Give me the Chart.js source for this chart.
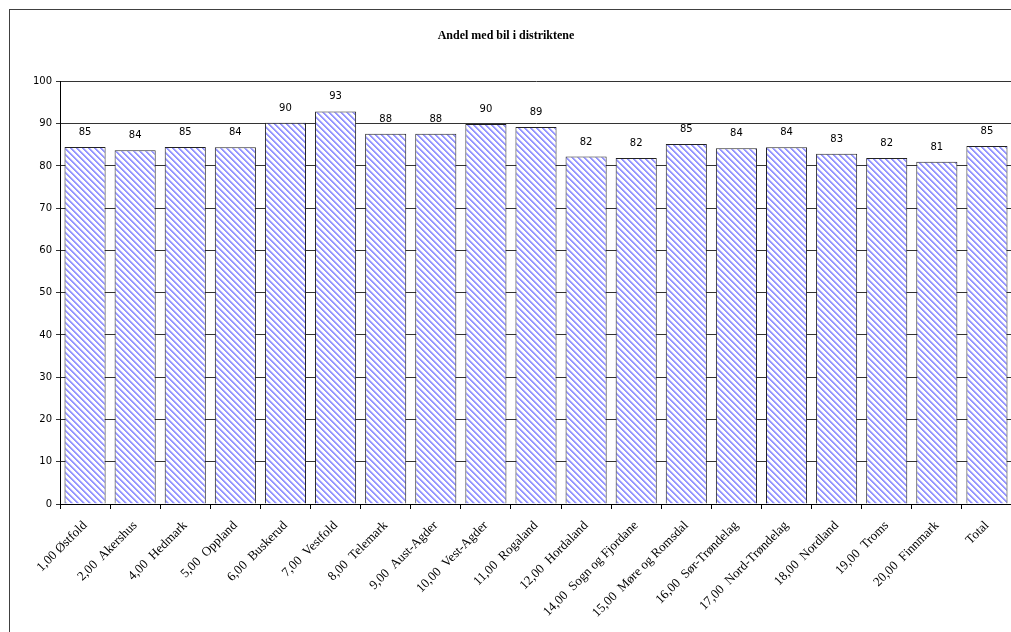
<!DOCTYPE html>
<html>
<head>
<meta charset="utf-8">
<script src="https://cdn.jsdelivr.net/npm/chart.js@4/dist/chart.umd.min.js"></script>
<style>
html, body { margin: 0; padding: 0; overflow: hidden; background: #fff; width: 1011px; height: 632px; }
#wrap { position: absolute; left: 0; top: 0; width: 1033px; height: 632px; }
</style>
</head>
<body>
<div id="wrap"><canvas id="c"></canvas></div>
<script>
const titleText = 'Andel med bil i distriktene';
const categories = [
  '1,00 Østfold', '2,00  Akershus', '4,00  Hedmark', '5,00  Oppland', '6,00  Buskerud',
  '7,00  Vestfold', '8,00  Telemark', '9,00  Aust-Agder', '10,00  Vest-Agder', '11,00  Rogaland',
  '12,00  Hordaland', '14,00  Sogn og Fjordane', '15,00  Møre og Romsdal', '16,00  Sør-Trøndelag',
  '17,00  Nord-Trøndelag', '18,00  Nordland', '19,00  Troms', '20,00  Finnmark', 'Total'
];
const values = [84.5, 83.7, 84.5, 84.4, 90.2, 92.9, 87.6, 87.6, 89.9, 89.2, 82.2, 81.9, 85.2, 84.2, 84.4, 82.9, 81.9, 81.0, 84.7];
const yTicks = [0, 10, 20, 30, 40, 50, 60, 70, 80, 90, 100];

function makePattern() {
  const n = 6;
  const cv = document.createElement('canvas');
  cv.width = n; cv.height = n;
  const ctx = cv.getContext('2d');
  const img = ctx.createImageData(n, n);
  for (let y = 0; y < n; y++) {
    for (let x = 0; x < n; x++) {
      const k = ((x - y) % n + n) % n;
      let c = [255, 255, 255];
      if (k === 0 || k === 1) c = [150, 150, 255];
      else if (k === 2) c = [205, 205, 255];
      const i = (y * n + x) * 4;
      img.data[i] = c[0]; img.data[i + 1] = c[1]; img.data[i + 2] = c[2]; img.data[i + 3] = 255;
    }
  }
  ctx.putImageData(img, 0, 0);
  return document.getElementById('c').getContext('2d').createPattern(cv, 'repeat');
}

const frame = {
  id: 'frame',
  beforeDraw(chart) {
    const ctx = chart.ctx;
    ctx.save();
    ctx.strokeStyle = '#404040';
    ctx.lineWidth = 1;
    ctx.strokeRect(9.5, 9.5, 2000, 2000);
    ctx.restore();
  }
};

const valueLabels = {
  id: 'valueLabels',
  afterDatasetsDraw(chart) {
    const ctx = chart.ctx;
    const meta = chart.getDatasetMeta(0);
    ctx.save();
    ctx.font = '10px "DejaVu Sans"';
    ctx.fillStyle = '#000';
    ctx.textAlign = 'center';
    ctx.textBaseline = 'middle';
    meta.data.forEach((bar, i) => {
      ctx.fillText(String(Math.round(values[i])), bar.x, bar.y - 14.5);
    });
    ctx.restore();
  }
};

new Chart(document.getElementById('c'), {
  type: 'bar',
  data: {
    labels: categories,
    datasets: [{
      data: values,
      backgroundColor: makePattern(),
      borderColor: '#222',
      borderWidth: 1,
      barPercentage: 0.82,
      categoryPercentage: 1
    }]
  },
  options: {
    responsive: true,
    maintainAspectRatio: false,
    animation: false,
    layout: { padding: { left: 0, right: 21, top: 0, bottom: 0 } },
    plugins: {
      legend: { display: false },
      tooltip: { enabled: false },
      title: {
        display: true,
        text: titleText,
        color: '#000',
        font: { family: 'Liberation Serif', size: 12, weight: 'bold' },
        padding: { top: 29, bottom: 38 }
      }
    },
    scales: {
      x: {
        grid: { display: true, drawOnChartArea: false, tickLength: 5, color: '#000', offset: true },
        border: { color: '#000' },
        ticks: {
          autoSkip: false, minRotation: 45, maxRotation: 45,
          font: { family: 'Liberation Serif', size: 13 }, color: '#000', padding: 9
        },
        afterFit(s) { s.height = 128; }
      },
      y: {
        min: 0, max: 100,
        afterBuildTicks(s) { s.ticks = yTicks.map(v => ({ value: v })); },
        ticks: { font: { family: 'DejaVu Sans', size: 10 }, color: '#000', padding: 4 },
        grid: { color: '#333', tickLength: 4 },
        border: { color: '#000' },
        afterFit(s) { s.width = 60; }
      }
    }
  },
  plugins: [frame, valueLabels]
});
</script>
</body>
</html>
